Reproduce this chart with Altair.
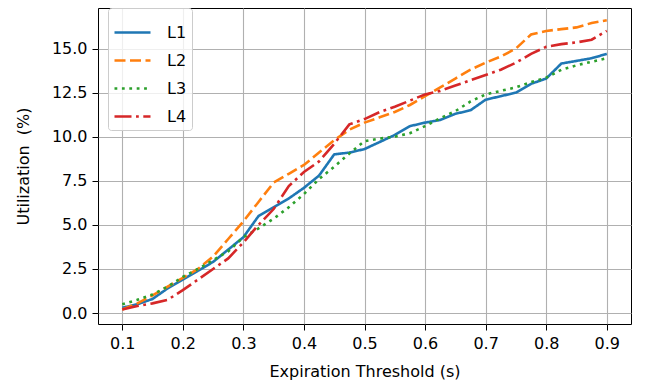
import altair as alt
import pandas as pd

x_vals = [0.1, 0.125, 0.15, 0.175, 0.2, 0.225, 0.25, 0.275, 0.3, 0.325, 0.35,
          0.375, 0.4, 0.425, 0.45, 0.475, 0.5, 0.525, 0.55, 0.575, 0.6, 0.625,
          0.65, 0.675, 0.7, 0.725, 0.75, 0.775, 0.8, 0.825, 0.85, 0.875, 0.9]

L1 = [0.3, 0.5, 0.8, 1.4, 1.9, 2.4, 2.9, 3.6, 4.3, 5.5, 6.0,
      6.5, 7.1, 7.8, 9.0, 9.1, 9.3, 9.7, 10.1, 10.6, 10.8, 10.95,
      11.3, 11.5, 12.1, 12.3, 12.5, 13.0, 13.3, 14.15, 14.3, 14.45, 14.7]
L2 = [0.2, 0.55, 1.0, 1.5, 2.0, 2.5, 3.2, 4.2, 5.2, 6.3, 7.4,
      7.9, 8.4, 9.1, 9.8, 10.4, 10.8, 11.1, 11.4, 11.8, 12.3, 12.8,
      13.3, 13.8, 14.2, 14.55, 15.0, 15.8, 16.0, 16.1, 16.2, 16.45, 16.6]
L3 = [0.5, 0.75, 1.05, 1.5, 2.05, 2.5, 3.0, 3.5, 4.3, 4.8, 5.35,
      6.0, 6.75, 7.6, 8.3, 9.05, 9.75, 9.9, 10.0, 10.2, 10.6, 11.05,
      11.45, 12.0, 12.4, 12.6, 12.8, 13.1, 13.35, 13.8, 14.05, 14.25, 14.45]
L4 = [0.2, 0.4, 0.55, 0.75, 1.3, 1.9, 2.5, 3.1, 4.0, 5.0, 5.9,
      7.2, 8.0, 8.6, 9.6, 10.7, 11.0, 11.4, 11.7, 12.05, 12.4, 12.6,
      12.9, 13.2, 13.5, 13.8, 14.2, 14.7, 15.1, 15.25, 15.35, 15.5, 16.0]

series_names = ["L1", "L2", "L3", "L4"]
series_vals = [L1, L2, L3, L4]
colors = ["#1f77b4", "#ff7f0e", "#2ca02c", "#d62728"]
dashes = [[1, 0], [11, 4.5], [2.8, 4.6], [17, 4.5, 2.8, 4.5]]

x_ticks = [0.1, 0.2, 0.3, 0.4, 0.5, 0.6, 0.7, 0.8, 0.9]
y_ticks = [0.0, 2.5, 5.0, 7.5, 10.0, 12.5, 15.0]

rows = []
for name, vals in zip(series_names, series_vals):
    for i, (xv, yv) in enumerate(zip(x_vals, vals)):
        rows.append({"x": xv, "y": yv, "series": name, "order": i})
df = pd.DataFrame(rows)

font = "DejaVu Sans"
fs = 16

leg = alt.Legend(title=None, orient="none", legendX=10, legendY=0)

chart = alt.Chart(df).mark_line(strokeWidth=2.6, clip=True).encode(
    x=alt.X("x:Q",
            scale=alt.Scale(domain=[0.06, 0.94], nice=False, zero=False),
            axis=alt.Axis(values=x_ticks, format=".1f", title="Expiration Threshold (s)")),
    y=alt.Y("y:Q",
            scale=alt.Scale(domain=[-0.62, 17.3], nice=False, zero=False),
            axis=alt.Axis(values=y_ticks, format=".1f", title="Utilization\u00a0 (%)")),
    color=alt.Color("series:N",
                    scale=alt.Scale(domain=series_names, range=colors),
                    legend=leg),
    strokeDash=alt.StrokeDash("series:N",
                              scale=alt.Scale(domain=series_names, range=dashes),
                              legend=leg),
    order="order:Q",
).properties(
    width=533,
    height=316,
    autosize=alt.AutoSizeParams(type="none"),
    padding={"left": 90, "top": 0, "right": 10, "bottom": 60},
).configure_view(
    stroke="black", strokeWidth=1
).configure_axis(
    grid=True, gridColor="#b0b0b0", gridWidth=1.1,
    domain=False,
    tickColor="black", tickSize=6, tickWidth=1,
    labelFont=font, labelFontSize=fs, labelColor="black", labelPadding=5,
    titleFont=font, titleFontSize=fs, titleColor="black", titleFontWeight="normal",
).configure_axisX(
    titlePadding=12
).configure_axisY(
    titlePadding=20
).configure_legend(
    labelFont=font, labelFontSize=fs, labelColor="black",
    symbolType="stroke", symbolSize=1296, symbolStrokeWidth=2.6,
    rowPadding=-7, labelOffset=15,
    fillColor="rgba(255,255,255,0.8)", strokeColor="#cccccc", cornerRadius=3,
    padding=5,
)

chart.save("out.html", embed_options={"renderer": "svg", "actions": False})
